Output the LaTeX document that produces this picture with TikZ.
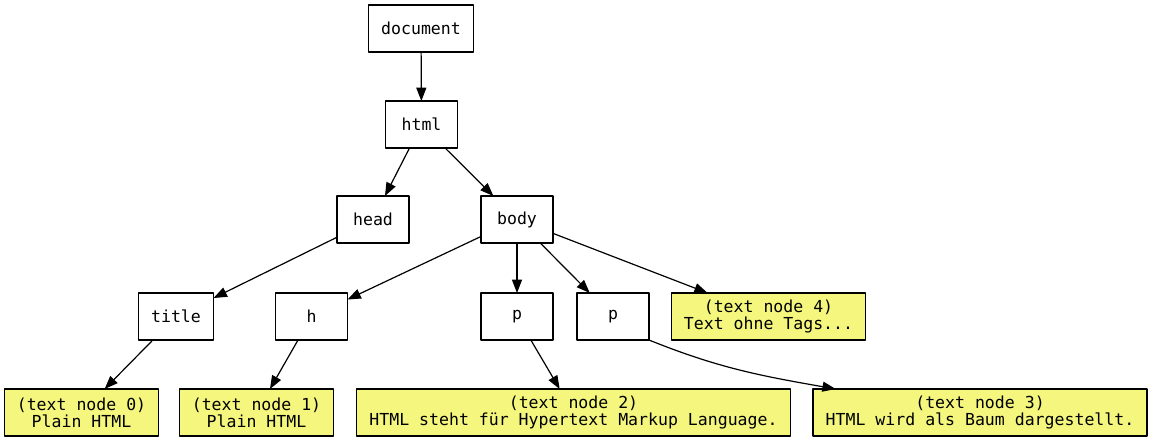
\documentclass[tikz,border=0pt]{standalone}
\usepackage{fontspec}
\setmonofont{DejaVu Sans Mono}
\usetikzlibrary{arrows.meta}
\definecolor{textyellow}{RGB}{244,246,126}

\begin{document}
\begin{tikzpicture}[x=0.75pt,y=-0.75pt,line width=0.9pt,line join=round,>={Triangle[length=10pt,width=7.5pt]},
                tag/.style={draw,font=\ttfamily\fontsize{12.4}{12.5}\selectfont,inner xsep=9.5pt,inner ysep=0pt,
                  minimum width=54pt,minimum height=35.25pt,outer sep=0pt},
                txt/.style={tag,fill=textyellow,align=center}]
                \useasboundingbox (0,0) rectangle (1151,443);
                \node[tag] (doc)   at (421,28.5)    {document};
                \node[tag] (html)  at (421.5,124.5) {html};
                \node[tag] (head)  at (373,219.5)   {head};
                \node[tag] (body)  at (517,219.5)   {body};
                \node[tag] (title) at (176,316.5)   {title};
                \node[tag] (h)     at (311.5,316.5) {h};
                \node[tag] (p1)    at (517,316.5)   {p};
                \node[tag] (p2)    at (613,316.5)   {p};
                \node[txt] (tn4)   at (768.5,316.5) {(text node 4)\\Text ohne Tags...};
                \node[txt] (tn0)   at (81.5,412.5)  {(text node 0)\\Plain HTML};
                \node[txt] (tn1)   at (256.5,412.5) {(text node 1)\\Plain HTML};
                \node[txt] (tn2)   at (573.5,412.5) {(text node 2)\\HTML steht für Hypertext Markup Language.};
                \node[txt] (tn3)   at (980,412.5)   {(text node 3)\\HTML wird als Baum dargestellt.};
                \draw[->] (doc)--(html);
                \draw[->] (html)--(head);
                \draw[->] (html)--(body);
                \draw[->] (head)--(title);
                \draw[->] (body)--(h);
                \draw[->] (body)--(p1);
                \draw[->] (body)--(p2);
                \draw[->] (body)--(tn4);
                \draw[->] (title)--(tn0);
                \draw[->] (h)--(tn1);
                \draw[->] (p1)--(tn2);
                \draw[->] (p2.south east) to[out=-22,in=170] ([xshift=17pt]tn3.north west);
              \end{tikzpicture}
\end{document}
